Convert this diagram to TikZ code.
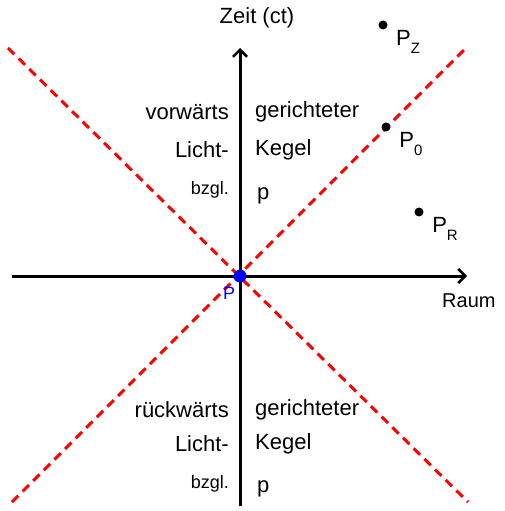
\documentclass[tikz,border=0pt]{standalone}
\usepackage{fontspec}
\setmainfont{Liberation Sans}
\usetikzlibrary{arrows.meta}
\newcommand{\psub}[1]{P\raisebox{-0.35em}{\fontsize{15}{17}\selectfont #1}}
\begin{document}
\begin{tikzpicture}[x=1pt,y=-1pt,
  axis/.style={line width=3pt,-{Straight Barb[length=7pt,width=14pt,line width=2.6pt]}},
  cone/.style={red,line width=3pt,dash pattern=on 9pt off 6pt},
  lbl/.style={font=\fontsize{22}{24}\selectfont,inner sep=0pt},
  small/.style={font=\fontsize{18}{20}\selectfont,inner sep=0pt},
  pt/.style={circle,fill=black,inner sep=0pt,minimum size=9pt}]
\useasboundingbox (0,0) rectangle (505,511);
\coordinate (O) at (240,276);
\coordinate (ybot) at (240,506);
\coordinate (ytop) at (240,48);
\coordinate (xl) at (12,276);
\coordinate (xr) at (467,276);
\coordinate (c1a) at (8,48);
\coordinate (c1b) at (468,502);
\coordinate (c2a) at (12,502);
\coordinate (c2b) at (464,50);
\draw[cone] (c1a) -- (c1b);
\draw[cone] (c2a) -- (c2b);
\draw[axis] (ybot) -- (ytop);
\draw[axis] (xl) -- (xr);
\node[circle,fill=blue,inner sep=0pt,minimum size=13pt] (p) at (O) {};
\node[small,text=blue] (plbl) at (229,293) {P};
\node[lbl] (zeit) at (257,18) {Zeit (ct)};
\node[anchor=west,inner sep=0pt,font=\fontsize{20}{22}\selectfont] (raum) at (442,301) {Raum};
\node[pt] (pz) at (383,25) {};
\node[lbl] (pzl) at (408,42) {\psub{Z}};
\node[pt] (p0) at (386,127) {};
\node[lbl] (p0l) at (411,144) {\psub{0}};
\node[pt] (pr) at (419,212) {};
\node[lbl] (prl) at (445,229) {\psub{R}};
% upper cone text
\node[lbl,anchor=east] (v1) at (229,112) {vorwärts};
\node[lbl,anchor=east] (v2) at (229,150) {Licht-};
\node[small,anchor=east] (v3) at (229,190) {bzgl.};
\node[lbl,anchor=west] (w1) at (255,112) {gerichteter};
\node[lbl,anchor=west] (w2) at (255,150) {Kegel};
\node[lbl,anchor=west] (w3) at (257,196) {p};
% lower cone text
\node[lbl,anchor=east] (r1) at (229,410) {rückwärts};
\node[lbl,anchor=east] (r2) at (229,444) {Licht-};
\node[small,anchor=east] (r3) at (229,484) {bzgl.};
\node[lbl,anchor=west] (s1) at (255,410) {gerichteter};
\node[lbl,anchor=west] (s2) at (255,444) {Kegel};
\node[lbl,anchor=west] (s3) at (257,489) {p};
\end{tikzpicture}
\end{document}
